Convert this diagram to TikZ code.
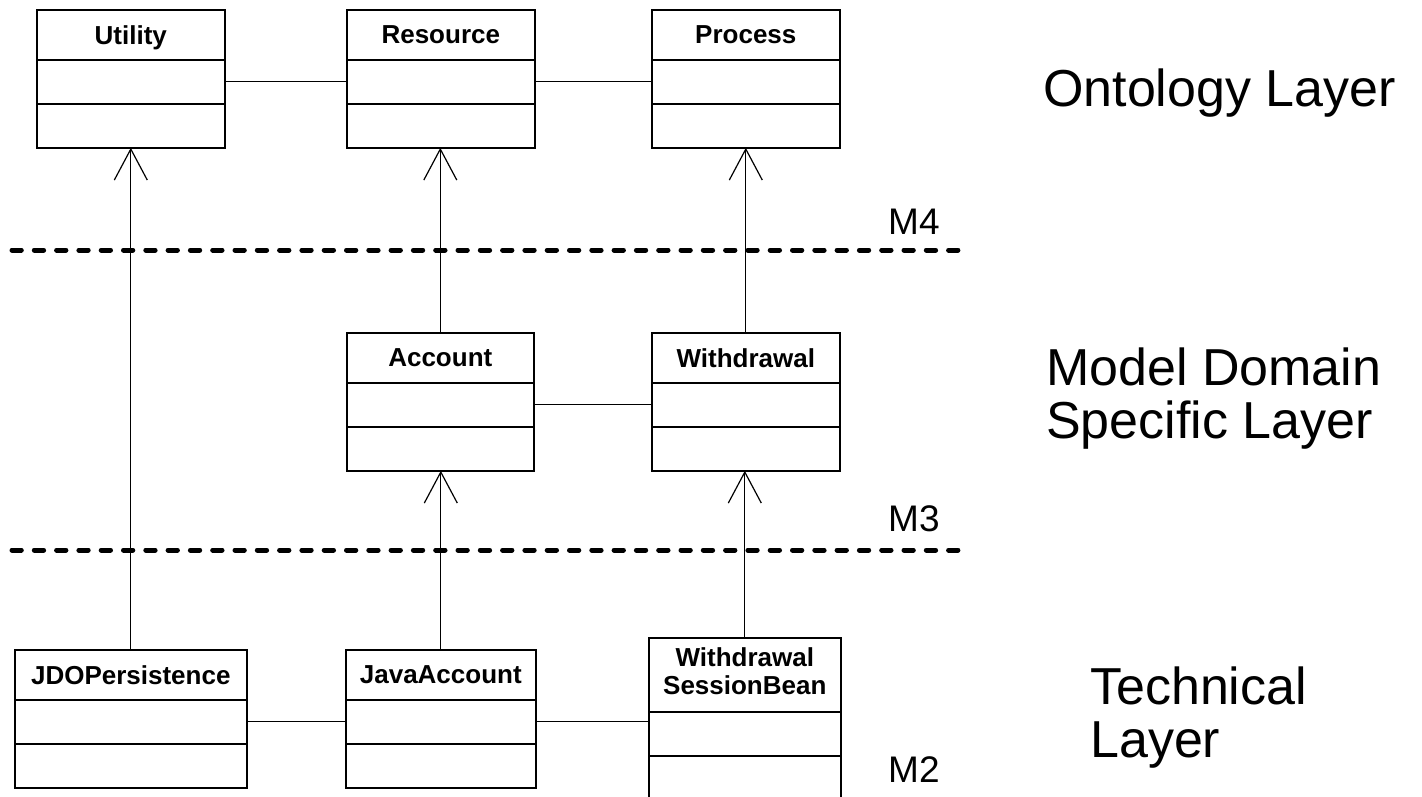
\documentclass[tikz,border=0pt]{standalone}
\usepackage{fontspec}
\setmainfont{Liberation Sans}
\usetikzlibrary{matrix}
\usetikzlibrary{arrows.meta}

\begin{document}
\begin{tikzpicture}[x=1pt,y=-1pt
  , umlclass/.style={matrix of nodes
    , line width = 1.6pt
    , inner sep = 0pt
    , outer sep = 0pt
    , anchor = north west
    , nodes={ minimum height = 44pt
            , minimum width = #1
            , outer sep = 0pt
            , inner sep = 0pt
            , text depth = 0pt
            , draw
            , font = \fontsize{26}{28}\selectfont\bfseries
            }
    , column sep=-\pgflinewidth % collapse borders
    , row sep=-\pgflinewidth % collapse borders
    , nodes in empty cells}
  , umlclass/.default = 188pt
  , assoc/.style={line width=1.2pt}
  , isa/.style={-{Straight Barb[length=31pt,width=33pt]}, line width=1.2pt}
  , layerline/.style={line width=5pt, line cap=round, dash pattern=on 9.3pt off 13pt}
  , mlabel/.style={anchor=base west, inner sep=0pt, font=\fontsize{37}{40}\selectfont}
  , layerlabel/.style={anchor=base west, inner sep=0pt, align=left, font=\fontsize{52}{53}\selectfont}
  ]

  \useasboundingbox (0,0) rectangle (1422,797);

  % ontology layer
  \matrix (utility) [umlclass] at (36,9)
  {
    |[minimum height=50pt]| Utility \\
    \\
    \\
  };
  \matrix (resource) [umlclass] at (346,9)
  {
    |[minimum height=50pt]| Resource \\
    \\
    \\
  };
  \matrix (process) [umlclass] at (651,9)
  {
    |[minimum height=50pt]| Process \\
    \\
    \\
  };

  % model domain specific layer
  \matrix (account) [umlclass=187pt] at (346,332)
  {
    |[minimum height=50pt]| Account \\
    \\
    \\
  };
  \matrix (withdrawal) [umlclass] at (651,332)
  {
    |[minimum height=50pt]| Withdrawal \\
    \\
    \\
  };

  % technical layer
  \matrix (jdo) [umlclass=232pt] at (14,649)
  {
    |[minimum height=50pt]| JDOPersistence \\
    \\
    \\
  };
  \matrix (javaaccount) [umlclass=190pt] at (345,649)
  {
    |[minimum height=50pt]| JavaAccount \\
    \\
    \\
  };
  \matrix (wsb) [umlclass=192pt] at (648,637)
  {
    |[minimum height=74pt, text depth=]| \begin{tabular}{@{}c@{}}Withdrawal\\SessionBean\end{tabular} \\
    \\
    \\
  };

  \draw [assoc] (utility-2-1.east) -- (resource-2-1.west);
  \draw [assoc] (resource-2-1.east) -- (process-2-1.west);
  \draw [assoc] (account-2-1.east) -- (withdrawal-2-1.west);
  \draw [assoc] (jdo-2-1.east) -- (javaaccount-2-1.west);
  \draw [assoc] (javaaccount-2-1.east) -- (javaaccount-2-1.east -| wsb-2-1.west);

  \draw [isa] (jdo-1-1.north) -- (jdo-1-1.north |- utility-3-1.south);
  \draw [isa] (account-1-1.north) -- (account-1-1.north |- resource-3-1.south);
  \draw [isa] (withdrawal-1-1.north) -- (withdrawal-1-1.north |- process-3-1.south);
  \draw [isa] (javaaccount-1-1.north) -- (javaaccount-1-1.north |- account-3-1.south);
  \draw [isa] (wsb-1-1.north) -- (wsb-1-1.north |- withdrawal-3-1.south);

  \draw [layerline] (12,250) -- (968,250);
  \draw [layerline] (12,550) -- (968,550);

  \node (m4) [mlabel] at (888,234) {M4};
  \node (m3) [mlabel] at (888,531) {M3};
  \node (m2) [mlabel] at (888,782) {M2};

  % base of a two-line label is its last line
  \node (ontology) [layerlabel] at (1043,107) {Ontology Layer};
  \node (domain) [layerlabel] at (1046,438) {Model Domain\\Specific Layer};
  \node (technical) [layerlabel] at (1090,757) {Technical\\Layer};

\end{tikzpicture}
\end{document}
